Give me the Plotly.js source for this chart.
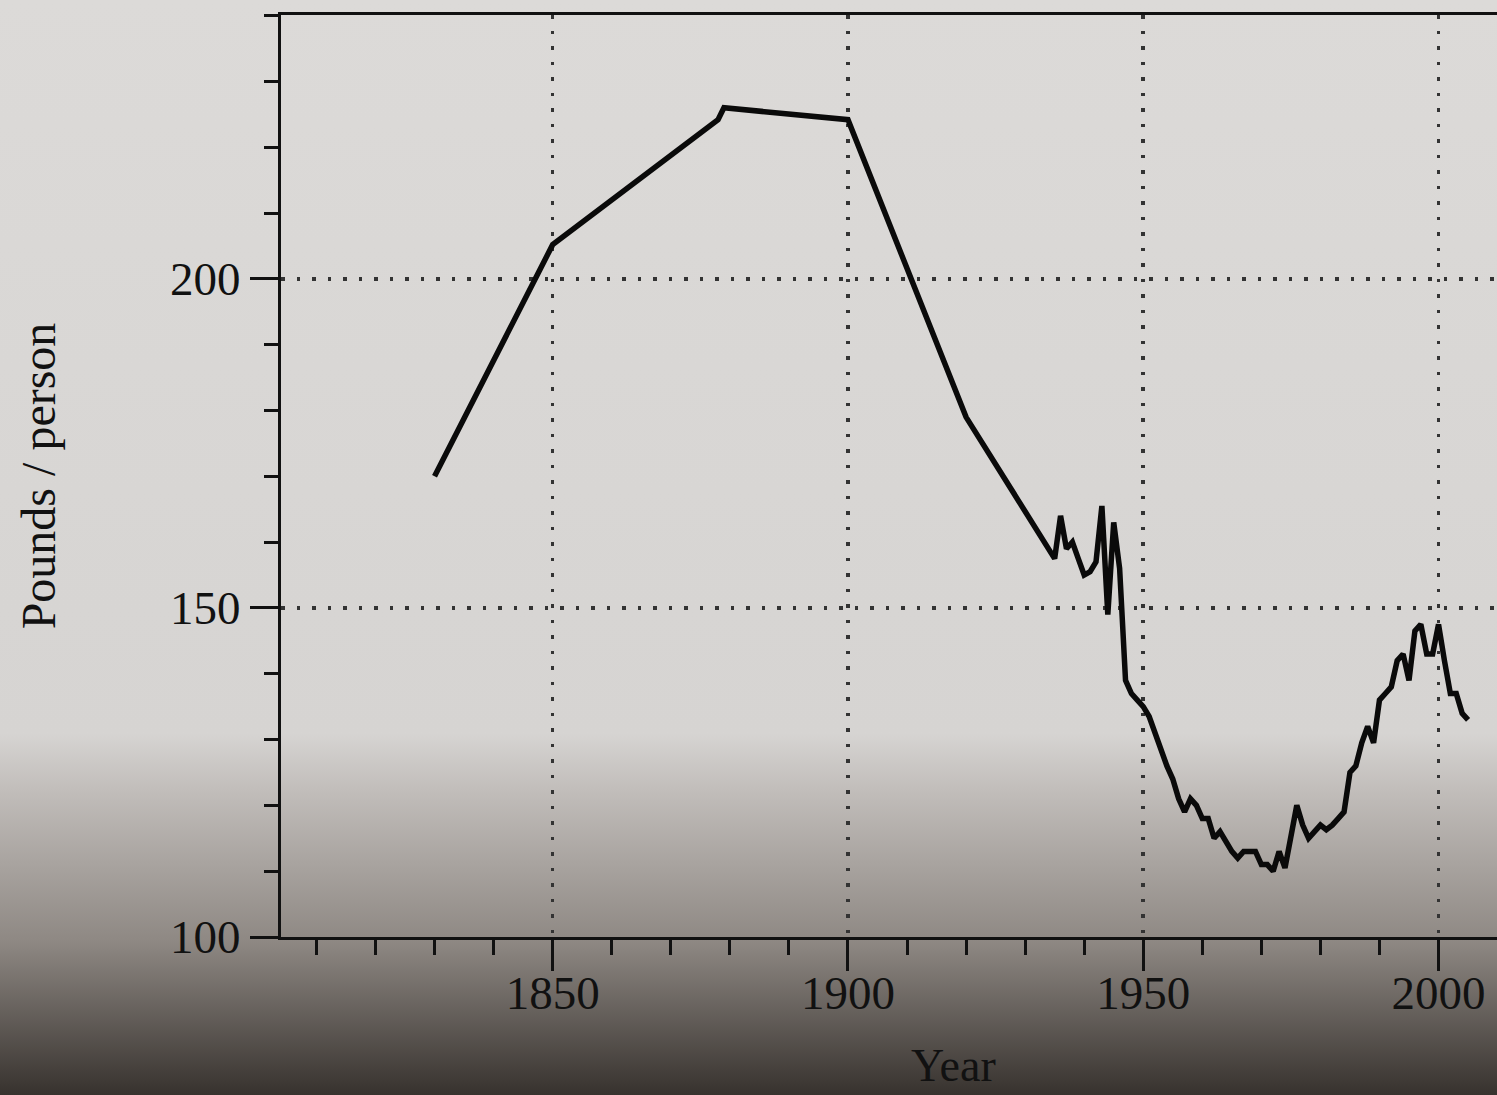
<!DOCTYPE html>
<html>
<head>
<meta charset="utf-8">
<script src="https://cdn.plot.ly/plotly-3.0.1.min.js"></script>
<style>html,body{margin:0;padding:0;background:#d8d6d4;}#chart{width:1497px;height:1095px;}</style>
</head>
<body>
<div id="chart"></div>
<script>
// Data
const years = [1830, 1850, 1878, 1879, 1900, 1920,
  1935, 1936, 1937, 1938, 1939, 1940, 1941, 1942, 1943, 1944, 1945, 1946, 1947, 1948, 1949,
  1950, 1951, 1952, 1953, 1954, 1955, 1956, 1957, 1958, 1959, 1960, 1961, 1962, 1963, 1964,
  1965, 1966, 1967, 1968, 1969, 1970, 1971, 1972, 1973, 1974, 1975, 1976, 1977, 1978, 1979,
  1980, 1981, 1982, 1983, 1984, 1985, 1986, 1987, 1988, 1989, 1990, 1991, 1992, 1993, 1994,
  1995, 1996, 1997, 1998, 1999, 2000, 2001, 2002, 2003, 2004, 2005];
const poundsPerPerson = [170, 205.2, 224.2, 226, 224.2, 179,
  157.5, 164, 159, 160, 157.5, 155, 155.5, 157, 165.5, 149, 163, 156, 139, 137, 136,
  135, 133.5, 131, 128, 126, 124, 121, 119, 121, 120, 118, 118, 115, 116, 114.5,
  113, 112, 113, 113, 113, 111, 111, 110, 113, 110.5, 115, 120, 117, 115, 116,
  117, 116.3, 117, 118, 119, 125, 126, 129.5, 132, 129.5, 136, 137, 138, 142, 143,
  139, 146.5, 147.5, 143, 143, 147.5, 142, 137, 137, 134, 133];
const xTickVals = [1850, 1900, 1950, 2000];
const xTickText = ['1850', '1900', '1950', '2000'];
const yTickVals = [100, 150, 200];
const yTickText = ['100', '150', '200'];
const xTitle = 'Year';
const yTitle = 'Pounds / person';

const W = 1497, H = 1095, L = 281, R = 0, T = 15, B = 158;
const pw = W - L - R, ph = H - T - B;

const bgSvg = '<svg xmlns="http://www.w3.org/2000/svg" width="100" height="100" preserveAspectRatio="none">' +
  '<defs><linearGradient id="g" x1="0" y1="0" x2="0" y2="1">' +
  '<stop offset="0" stop-color="#dcdad8"/>' +
  '<stop offset="0.67" stop-color="#d6d4d2"/>' +
  '<stop offset="0.72" stop-color="#c2bebb"/>' +
  '<stop offset="0.86" stop-color="#8e8883"/>' +
  '<stop offset="1" stop-color="#37322e"/>' +
  '</linearGradient></defs><rect width="100" height="100" fill="url(#g)"/></svg>';
const bgUri = 'data:image/svg+xml;base64,' + btoa(bgSvg);

const serif = 'Liberation Serif, Times New Roman, serif';

const trace = {
  x: years, y: poundsPerPerson, type: 'scatter', mode: 'lines',
  line: {color: '#0a0a0a', width: 5.5, shape: 'linear'},
  hoverinfo: 'x+y'
};

const layout = {
  width: W, height: H,
  margin: {l: L, r: R, t: T, b: B, pad: 0},
  paper_bgcolor: 'rgba(0,0,0,0)',
  plot_bgcolor: 'rgba(0,0,0,0)',
  showlegend: false,
  images: [{
    source: bgUri, xref: 'paper', yref: 'paper',
    x: -L / pw, y: 1 + T / ph, sizex: W / pw, sizey: H / ph,
    xanchor: 'left', yanchor: 'top', sizing: 'stretch', layer: 'below'
  }],
  annotations: [{
    text: xTitle, xref: 'paper', yref: 'paper',
    x: (953 - L) / pw, y: -(1065 - (T + ph)) / ph,
    xanchor: 'center', yanchor: 'middle', showarrow: false,
    font: {family: serif, size: 46, color: '#111'}
  }],
  xaxis: {
    range: [1804, 2009.9], autorange: false,
    tickmode: 'array', tickvals: xTickVals, ticktext: xTickText,
    ticks: 'outside', ticklen: 31, tickwidth: 3, tickcolor: '#111',
    minor: {dtick: 10, tick0: 1800, ticks: 'outside', ticklen: 15, tickwidth: 3, tickcolor: '#111', showgrid: false},
    showline: true, linecolor: '#111', linewidth: 3, mirror: true,
    showgrid: true, gridcolor: '#333', gridwidth: 3.5, griddash: '3.5px,12px',
    zeroline: false,
    tickfont: {family: serif, size: 47, color: '#111'},
    ticklabelstandoff: -18,
    automargin: false
  },
  yaxis: {
    range: [100, 240.1], autorange: false,
    tickmode: 'array', tickvals: yTickVals, ticktext: yTickText,
    ticks: 'outside', ticklen: 28, tickwidth: 3, tickcolor: '#111',
    minor: {dtick: 10, tick0: 100, ticks: 'outside', ticklen: 14, tickwidth: 3, tickcolor: '#111', showgrid: false},
    showline: true, linecolor: '#111', linewidth: 3, mirror: false,
    showgrid: true, gridcolor: '#333', gridwidth: 3.5, griddash: '3.5px,12px',
    zeroline: false,
    tickfont: {family: serif, size: 47, color: '#111'},
    title: {text: yTitle, font: {family: serif, size: 48, color: '#111'}, standoff: 100},
    automargin: false
  }
};

Plotly.newPlot('chart', [trace], layout, {displayModeBar: false, staticPlot: true});
</script>
</body>
</html>
